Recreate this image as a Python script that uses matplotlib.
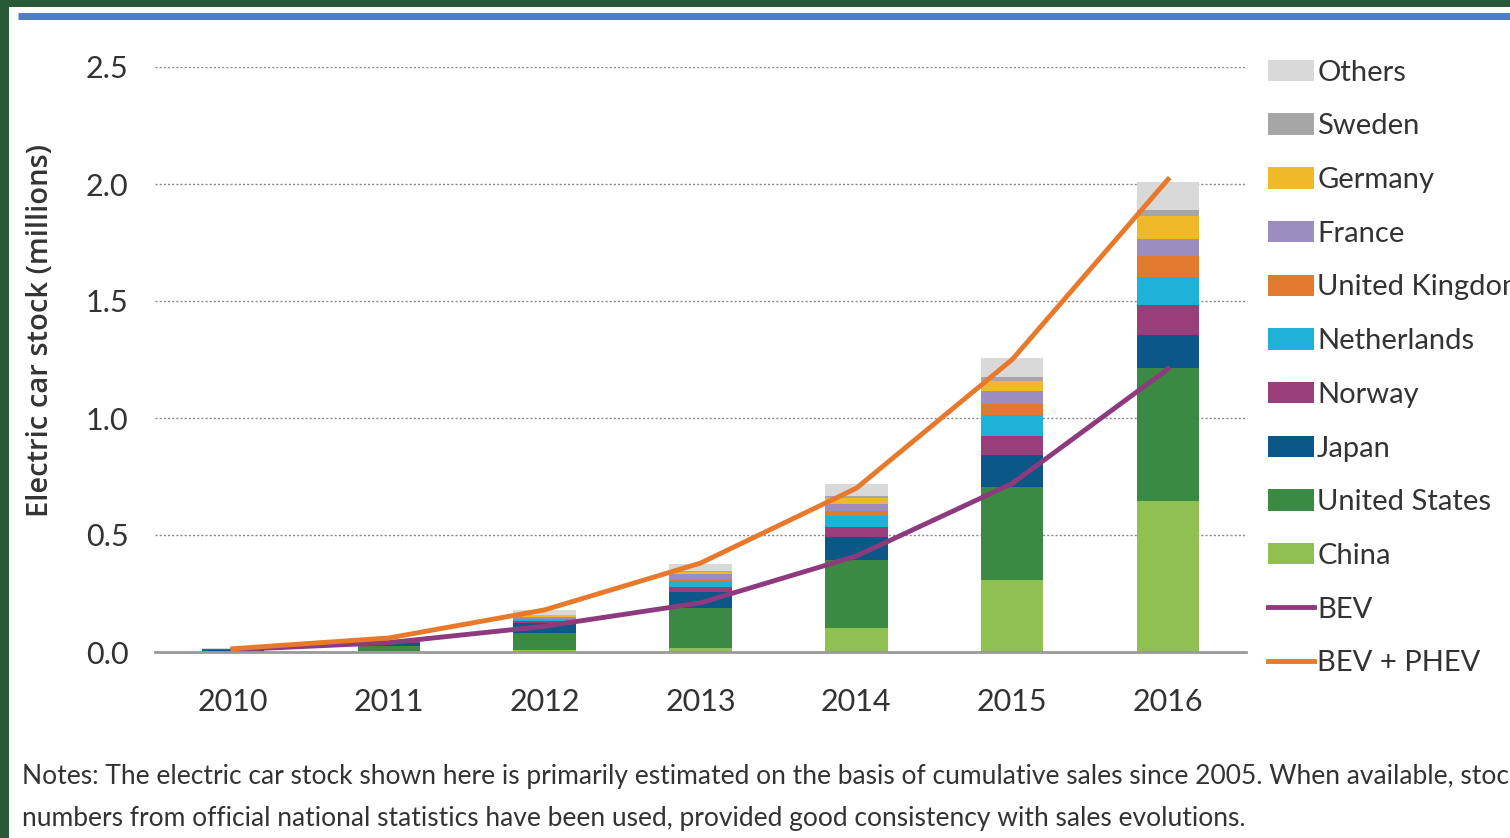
import matplotlib.pyplot as plt
import matplotlib.patches as patches
from matplotlib.lines import Line2D

# --------------------
# Data (millions of cars)
# --------------------
years = ["2010", "2011", "2012", "2013", "2014", "2015", "2016"]

china       = [0.002, 0.005, 0.010, 0.015, 0.101, 0.308, 0.645]
usa         = [0.004, 0.021, 0.072, 0.172, 0.292, 0.399, 0.570]
japan       = [0.004, 0.013, 0.040, 0.069, 0.100, 0.135, 0.141]
norway      = [0.003, 0.005, 0.010, 0.020, 0.040, 0.080, 0.128]
netherlands = [0.000, 0.001, 0.007, 0.029, 0.048, 0.091, 0.118]
uk          = [0.001, 0.001, 0.003, 0.008, 0.022, 0.045, 0.090]
france      = [0.000, 0.003, 0.009, 0.019, 0.029, 0.056, 0.073]
germany     = [0.000, 0.002, 0.006, 0.012, 0.027, 0.045, 0.098]
sweden      = [0.000, 0.000, 0.001, 0.004, 0.008, 0.018, 0.025]
others      = [0.002, 0.005, 0.020, 0.030, 0.050, 0.080, 0.120]

bev      = [0.010, 0.040, 0.110, 0.210, 0.410, 0.720, 1.210]
bev_phev = [0.014, 0.060, 0.180, 0.380, 0.700, 1.250, 2.020]

series = [
    ("China", china, "#8fc050"),
    ("United States", usa, "#3b8a44"),
    ("Japan", japan, "#0b5788"),
    ("Norway", norway, "#993d7b"),
    ("Netherlands", netherlands, "#1fb2d8"),
    ("United Kingdom", uk, "#e07a2e"),
    ("France", france, "#9b8dc0"),
    ("Germany", germany, "#f0b92a"),
    ("Sweden", sweden, "#a6a6a6"),
    ("Others", others, "#d9d9d9"),
]

narrow = ["Lato", "DejaVu Sans"]
text_col = "#333333"

W, H = 1510, 838
fig = plt.figure(figsize=(W / 100, H / 100), dpi=100)
fig.patch.set_facecolor("#285a37")

# white panel + blue rule at top
fig.patches.append(patches.Rectangle((9 / W, 0), 1, 1 - 7 / H, transform=fig.transFigure,
                                     facecolor="white", edgecolor="none", zorder=-5))
fig.add_artist(Line2D([18 / W, 1], [1 - 16 / H, 1 - 16 / H], transform=fig.transFigure,
                      color="#4f7fc0", linewidth=5, solid_capstyle="butt", zorder=-4))

# --------------------
# Chart
# --------------------
ax = fig.add_axes([155 / W, (H - 652) / H, (1246 - 155) / W, (652 - 67) / H])
ax.set_zorder(2)
ax.set_facecolor("white")

x = list(range(len(years)))
bottom = [0.0] * len(years)
for name, vals, col in series:
    ax.bar(x, vals, width=0.4, bottom=bottom, color=col, label=name, zorder=2)
    bottom = [b + v for b, v in zip(bottom, vals)]

ax.plot(x, bev, color="#8e3a7e", linewidth=3.5, label="BEV", zorder=3)
ax.plot(x, bev_phev, color="#e8782a", linewidth=3.5, label="BEV + PHEV", zorder=3)

ax.set_xlim(-0.5, 6.5)
ax.set_ylim(0, 2.5)
ax.set_yticks([0, 0.5, 1.0, 1.5, 2.0, 2.5])
ax.set_yticklabels(["0.0", "0.5", "1.0", "1.5", "2.0", "2.5"],
                   fontsize=22, color=text_col, family=narrow)
ax.set_xticks(x)
ax.set_xticklabels(years, fontsize=22, color=text_col, family=narrow)
ax.tick_params(axis="both", length=0)
ax.tick_params(axis="y", pad=19)
ax.tick_params(axis="x", pad=26)

for s in ["top", "right", "left"]:
    ax.spines[s].set_visible(False)
ax.spines["bottom"].set_color("#999999")
ax.spines["bottom"].set_linewidth(2)
ax.spines["bottom"].set_zorder(4)

ax.yaxis.grid(True, linestyle=(0, (1.5, 1.5)), color="#888888", linewidth=1, zorder=0)
ax.set_axisbelow(True)

ax.set_ylabel("Electric car stock (millions)", fontsize=21, color=text_col, labelpad=22,
              family=["Open Sans", "DejaVu Sans"], fontweight="semibold")
ax.yaxis.set_label_coords(-100 / (1246 - 155), 0.55)

# --------------------
# Legend
# --------------------
h, l = ax.get_legend_handles_labels()
order = [l.index(n) for n in ["Others", "Sweden", "Germany", "France", "United Kingdom",
                              "Netherlands", "Norway", "Japan", "United States", "China",
                              "BEV", "BEV + PHEV"]]
leg = fig.legend([h[i] for i in order], [l[i] for i in order],
                 loc="upper left", bbox_to_anchor=(1253 / W, 1 - 45 / H),
                 frameon=False, prop={"family": narrow, "size": 21},
                 handlelength=1.6, handleheight=0.75, handletextpad=0.1,
                 labelspacing=0.95, borderpad=0)
for t in leg.get_texts():
    t.set_color(text_col)

# --------------------
# Notes
# --------------------
fig.text(22 / W, 1 - 776 / H,
         "Notes: The electric car stock shown here is primarily estimated on the basis of "
         "cumulative sales since 2005. When available, stock",
         fontsize=19, color=text_col, family=narrow, va="center")
fig.text(22 / W, 1 - 818 / H,
         "numbers from official national statistics have been used, provided good consistency "
         "with sales evolutions.",
         fontsize=19, color=text_col, family=narrow, va="center")

plt.savefig("out.png", dpi=100)
plt.close()
